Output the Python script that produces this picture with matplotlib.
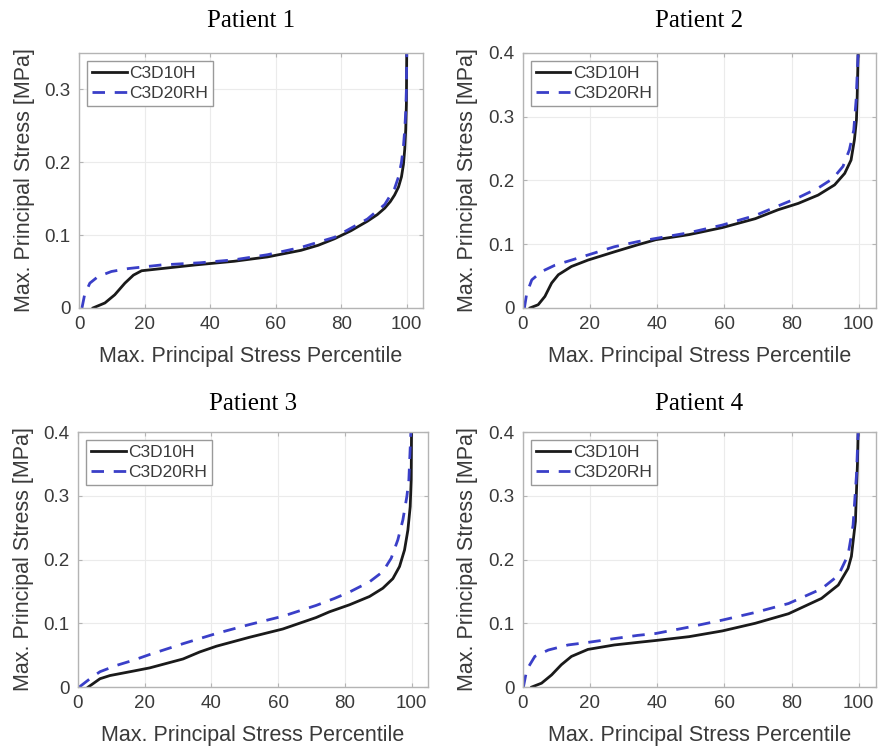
import matplotlib
matplotlib.use('Agg')
import matplotlib.pyplot as plt

# ---- data (percentile, stress MPa) ----
p1_c3d10h_x = [4.3, 7.9, 10.9, 14.0, 16.6, 19.1, 25.2, 35.5, 47.3, 57.5, 67.7, 73.0, 78.0, 83.0, 88.0, 91.0, 93.3, 95.0, 96.3, 97.5, 98.4, 99.0, 99.4, 99.7, 99.9, 100.0]
p1_c3d10h_y = [0.0, 0.0068, 0.018, 0.034, 0.045, 0.051, 0.054, 0.059, 0.064, 0.070, 0.079, 0.086, 0.095, 0.106, 0.119, 0.128, 0.137, 0.146, 0.155, 0.166, 0.180, 0.197, 0.218, 0.245, 0.280, 0.350]
p1_c3d20rh_x = [0.9, 1.7, 3.3, 5.8, 9.9, 15.0, 25.2, 37.0, 47.3, 57.5, 67.7, 78.0, 88.0, 93.3, 96.3, 97.5, 98.4, 99.0, 99.4, 99.7, 99.9, 100.0]
p1_c3d20rh_y = [0.0, 0.018, 0.034, 0.043, 0.050, 0.054, 0.059, 0.062, 0.066, 0.073, 0.083, 0.097, 0.122, 0.142, 0.164, 0.180, 0.200, 0.222, 0.245, 0.270, 0.300, 0.350]

p2_c3d10h_x = [2.2, 4.6, 6.6, 8.6, 10.6, 14.5, 19.4, 27.3, 34.2, 39.6, 49.5, 59.4, 69.2, 76.0, 82.0, 87.9, 92.8, 95.8, 97.7, 98.7, 99.3, 99.5, 99.8]
p2_c3d10h_y = [0.0, 0.005, 0.018, 0.039, 0.052, 0.065, 0.075, 0.088, 0.099, 0.107, 0.115, 0.126, 0.140, 0.154, 0.164, 0.177, 0.193, 0.211, 0.232, 0.264, 0.295, 0.326, 0.400]
p2_c3d20rh_x = [0.5, 1.2, 2.7, 5.6, 9.6, 14.5, 19.4, 27.3, 34.2, 39.6, 49.5, 59.4, 69.2, 76.0, 82.0, 87.9, 92.3, 95.3, 97.2, 98.5, 99.2, 99.8]
p2_c3d20rh_y = [0.0, 0.023, 0.044, 0.057, 0.067, 0.075, 0.083, 0.096, 0.104, 0.109, 0.118, 0.130, 0.145, 0.160, 0.173, 0.188, 0.203, 0.222, 0.248, 0.279, 0.326, 0.400]

p3_c3d10h_x = [3.1, 6.6, 9.6, 16.6, 21.5, 26.5, 31.5, 36.5, 41.5, 51.4, 61.4, 71.4, 75.4, 81.4, 87.4, 91.4, 94.4, 96.4, 97.9, 98.9, 99.6, 99.9, 100.0]
p3_c3d10h_y = [0.0, 0.013, 0.018, 0.025, 0.030, 0.037, 0.044, 0.055, 0.064, 0.078, 0.091, 0.109, 0.118, 0.129, 0.142, 0.155, 0.170, 0.189, 0.215, 0.246, 0.283, 0.325, 0.400]
p3_c3d20rh_x = [0.4, 3.6, 6.6, 11.6, 16.6, 21.5, 31.5, 41.5, 51.4, 61.4, 71.4, 76.9, 81.4, 87.4, 91.4, 93.9, 95.9, 97.4, 98.6, 99.2, 99.8]
p3_c3d20rh_y = [0.0, 0.013, 0.024, 0.034, 0.042, 0.051, 0.068, 0.084, 0.098, 0.111, 0.128, 0.139, 0.149, 0.165, 0.181, 0.202, 0.231, 0.262, 0.299, 0.325, 0.400]

p4_c3d10h_x = [2.7, 5.6, 8.6, 11.5, 14.5, 19.4, 27.3, 34.2, 39.6, 49.5, 59.4, 69.2, 79.1, 88.9, 93.9, 96.8, 97.8, 98.3, 99.0, 99.3, 99.6, 99.8]
p4_c3d10h_y = [0.0, 0.006, 0.019, 0.035, 0.048, 0.059, 0.066, 0.070, 0.073, 0.079, 0.088, 0.100, 0.115, 0.139, 0.160, 0.186, 0.205, 0.228, 0.260, 0.306, 0.350, 0.400]
p4_c3d20rh_x = [0.2, 1.2, 3.6, 7.6, 13.5, 19.4, 27.3, 34.2, 39.6, 49.5, 59.4, 69.2, 79.1, 88.9, 93.9, 96.8, 98.3, 99.3, 99.8]
p4_c3d20rh_y = [0.0, 0.027, 0.048, 0.058, 0.066, 0.070, 0.076, 0.081, 0.084, 0.094, 0.105, 0.117, 0.131, 0.154, 0.175, 0.207, 0.254, 0.332, 0.400]

titles = ['Patient 1', 'Patient 2', 'Patient 3', 'Patient 4']
series_names = ['C3D10H', 'C3D20RH']
ymaxes = [0.35, 0.4, 0.4, 0.4]
x_ticks = [0, 20, 40, 60, 80, 100]

curves = [
    (p1_c3d10h_x, p1_c3d10h_y, p1_c3d20rh_x, p1_c3d20rh_y),
    (p2_c3d10h_x, p2_c3d10h_y, p2_c3d20rh_x, p2_c3d20rh_y),
    (p3_c3d10h_x, p3_c3d10h_y, p3_c3d20rh_x, p3_c3d20rh_y),
    (p4_c3d10h_x, p4_c3d10h_y, p4_c3d20rh_x, p4_c3d20rh_y),
]

plt.rcParams['font.family'] = ['Liberation Sans', 'DejaVu Sans']

fig = plt.figure(figsize=(8.8, 7.51), dpi=100)

# axes rectangles in figure fractions (left, bottom, width, height)
rects = [
    (0.0898, 0.590, 0.391, 0.3395),
    (0.594, 0.590, 0.401, 0.3395),
    (0.0886, 0.0852, 0.398, 0.3395),
    (0.594, 0.0852, 0.401, 0.3395),
]
title_pads = [19, 19, 16, 16]

text_col = '#3a3a3a'
spine_col = '#b4b4b4'

for i in range(4):
    ax = fig.add_axes(rects[i])
    bx, by, rx, ry = curves[i]
    ax.plot(bx, by, color='#1a1a1a', lw=2.0, solid_joinstyle='round', label=series_names[0])
    ax.plot(rx, ry, color='#3a3fc8', lw=2.0, ls=(0, (4.5, 3.5)), dash_joinstyle='round',
            label=series_names[1])

    ax.set_xlim(0, 105)
    ax.set_ylim(0, ymaxes[i])
    ax.set_xticks(x_ticks)
    if ymaxes[i] < 0.4:
        ax.set_yticks([0, 0.1, 0.2, 0.3])
        ax.set_yticklabels(['0', '0.1', '0.2', '0.3'])
    else:
        ax.set_yticks([0, 0.1, 0.2, 0.3, 0.4])
        ax.set_yticklabels(['0', '0.1', '0.2', '0.3', '0.4'])
    ax.grid(True, color='#ebebeb', lw=0.8)
    ax.set_axisbelow(True)
    for s in ax.spines.values():
        s.set_color(spine_col)
        s.set_linewidth(1.0)
    ax.tick_params(direction='in', length=3, width=0.8, color=spine_col,
                   top=True, right=True, labelsize=13.5, labelcolor=text_col, pad=6)

    ax.set_xlabel('Max. Principal Stress Percentile', fontsize=15.5, color=text_col, labelpad=9)
    ax.set_ylabel('Max. Principal Stress [MPa]', fontsize=15.5, color=text_col, labelpad=7)
    ax.set_title(titles[i], fontsize=18, family='Liberation Serif', color='black', pad=title_pads[i])

    leg = ax.legend(loc='upper left', fontsize=12.5, handlelength=2.0, handletextpad=0.15,
                    borderpad=0.3, labelspacing=0.25, borderaxespad=0.45, fancybox=False,
                    framealpha=1.0, edgecolor='#9a9a9a')
    leg.get_frame().set_linewidth(1.0)
    for t in leg.get_texts():
        t.set_color(text_col)

fig.savefig('out.png', dpi=100)
